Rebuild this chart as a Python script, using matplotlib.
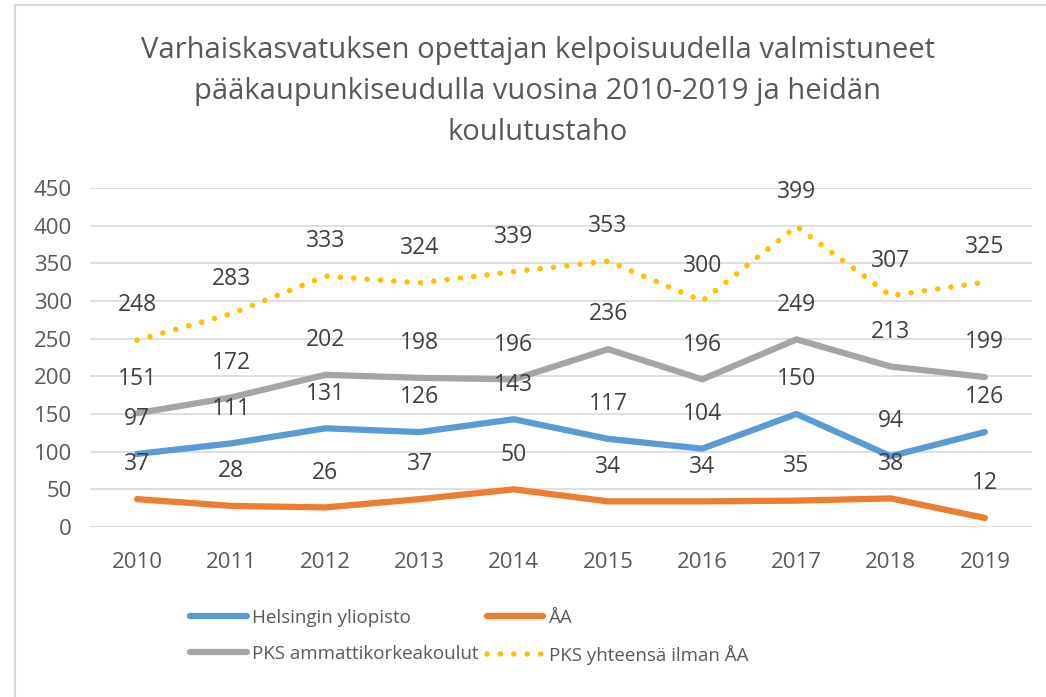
import matplotlib.pyplot as plt
from matplotlib.patches import Rectangle

plt.rcParams['font.family'] = ['Open Sans', 'DejaVu Sans']

years = ['2010', '2011', '2012', '2013', '2014', '2015', '2016', '2017', '2018', '2019']
helsinki = [97, 111, 131, 126, 143, 117, 104, 150, 94, 126]
aa = [37, 28, 26, 37, 50, 34, 34, 35, 38, 12]
pks_amk = [151, 172, 202, 198, 196, 236, 196, 249, 213, 199]
pks_total = [248, 283, 333, 324, 339, 353, 300, 399, 307, 325]

series = [
    ('Helsingin yliopisto', helsinki, '#5B9BD5', '-'),
    ('ÅA', aa, '#ED7D31', '-'),
    ('PKS ammattikorkeakoulut', pks_amk, '#A5A5A5', '-'),
    ('PKS yhteensä ilman ÅA', pks_total, '#FFC000', (0, (0.01, 2.4))),
]

fig = plt.figure(figsize=(10.46, 6.97), dpi=100)
ax = fig.add_axes([0.086, 0.2439, 0.9006, 0.4864])

x = range(len(years))
lines = {}
for name, vals, col, ls in series:
    ln, = ax.plot(x, vals, color=col, linestyle=ls, linewidth=4.5 if ls == '-' else 4,
                  solid_capstyle='round', dash_capstyle='round', label=name)
    lines[name] = ln
    for xi, v in zip(x, vals):
        ax.annotate(str(v), (xi, v), xytext=(0, 25), textcoords='offset points',
                    ha='center', va='center', fontsize=16.5, color='#404040')

ax.set_xlim(-0.5, len(years) - 0.5)
ax.set_ylim(0, 450)
ax.set_yticks(range(0, 451, 50))
ax.set_xticks(list(x))
ax.set_xticklabels(years)
ax.tick_params(axis='both', length=0, labelsize=16, colors='#595959')
ax.tick_params(axis='y', pad=13)
ax.tick_params(axis='x', pad=18)
ax.grid(axis='y', color='#D9D9D9', linewidth=1.2)
ax.set_axisbelow(True)
for s in ax.spines.values():
    s.set_visible(False)

fig.text(0.514, 0.948, 'Varhaiskasvatuksen opettajan kelpoisuudella valmistuneet\n'
         'pääkaupunkiseudulla vuosina 2010-2019 ja heidän\nkoulutustaho',
         ha='center', va='top', fontsize=21, color='#595959', linespacing=1.55)

# column-wise fill, so order gives row 1: Helsinki, ÅA
order = ['Helsingin yliopisto', 'PKS ammattikorkeakoulut', 'ÅA', 'PKS yhteensä ilman ÅA']
fig.legend([lines[n] for n in order], order, loc='upper left',
           bbox_to_anchor=(0.173, 0.14), ncol=2, frameon=False, borderpad=0,
           fontsize=13.5, handlelength=3.0, handletextpad=0.3, columnspacing=0.45,
           labelspacing=0.95, labelcolor='#595959')

fig.patches.append(Rectangle((0.014, -0.01), 1.0, 1.003, transform=fig.transFigure,
                             fill=False, edgecolor='#D9D9D9', linewidth=1.5))

plt.savefig('out.png', dpi=100, facecolor='white')
